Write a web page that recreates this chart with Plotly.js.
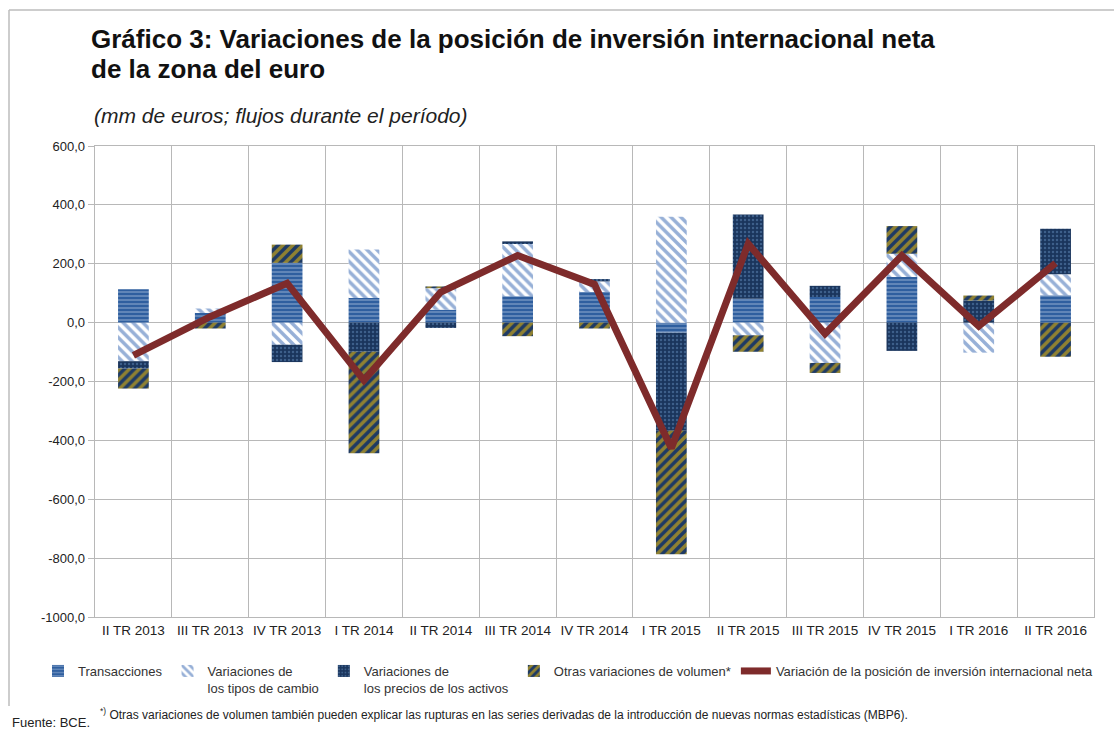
<!DOCTYPE html>
<html>
<head>
<meta charset="utf-8">
<script src="https://cdn.plot.ly/plotly-3.0.1.min.js"></script>
<style>
  html, body { margin: 0; padding: 0; background: #fff; }
  #chart { width: 1114px; height: 733px; }
</style>
</head>
<body>
<div id="chart"></div>
<script>
const categories = ['II TR 2013','III TR 2013','IV TR 2013','I TR 2014','II TR 2014','III TR 2014','IV TR 2014','I TR 2015','II TR 2015','III TR 2015','IV TR 2015','I TR 2016','II TR 2016'];
const transacciones = [113, 33, 203, 84, 44, 90, 104, -34, 81, 87, 155, 0, 93];
const tiposCambio   = [-131, 15, -75, 164, 73, 177, 36, 360, -43, -137, 79, -102, 71];
const preciosActivos = [-25, 0, -59, -99, -18, 9, 8, -333, 286, 38, -96, 75, 155];
const otrasVolumen  = [-68, -20, 62, -345, 6, -46, -20, -420, -56, -34, 94, 17, -116];
const variacionNeta = [-111, 20, 134, -196, 104, 228, 130, -427, 268, -38, 228, -12, 202];
const yTickVals = [600, 400, 200, 0, -200, -400, -600, -800, -1000];
const yTickText = ['600,0','400,0','200,0','0,0','-200,0','-400,0','-600,0','-800,0','-1000,0'];
const seriesNames = ['Transacciones', 'Variaciones de<br>los tipos de cambio', 'Variaciones de<br>los precios de los activos', 'Otras variaciones de volumen*', 'Variación de la posición de inversión internacional neta'];

// pixel helpers for paper coords (plot area: x 95..1094, y 146..617)
const PL = 95, PR = 1094, PT = 146, PB = 617;
const px = v => (v - PL) / (PR - PL);
const py = v => (PB - v) / (PB - PT);

const traces = [
  { type: 'bar', name: seriesNames[0], x: categories, y: transacciones,
    marker: { color: '#2F5F9F', line: { width: 0 },
      pattern: { shape: '-', fillmode: 'overlay', fgcolor: '#D4E0F0', size: 4, solidity: 0.3 } } },
  { type: 'bar', name: seriesNames[1], x: categories, y: tiposCambio,
    marker: { color: '#FFFFFF', line: { width: 0 },
      pattern: { shape: '\\', fillmode: 'overlay', fgcolor: '#2F62B0', size: 7, solidity: 0.5 } } },
  { type: 'bar', name: seriesNames[2], x: categories, y: preciosActivos,
    marker: { color: '#1A355C', line: { width: 0 },
      pattern: { shape: '.', fillmode: 'overlay', fgcolor: '#5F88B8', size: 4, solidity: 0.3 } } },
  { type: 'bar', name: seriesNames[3], x: categories, y: otrasVolumen,
    marker: { color: '#1E3A64', line: { width: 0 },
      pattern: { shape: '/', fillmode: 'overlay', fgcolor: '#FFC800', size: 7, solidity: 0.5 } } },
  { type: 'scatter', mode: 'lines', name: seriesNames[4], x: categories, y: variacionNeta,
    line: { color: '#7E2B2B', width: 7 } }
];

const layout = {
  width: 1114, height: 733,
  paper_bgcolor: '#fff', plot_bgcolor: '#fff',
  margin: { l: PL, r: 1114 - PR, t: PT, b: 733 - PB },
  barmode: 'relative',
  bargap: 0.6,
  font: { family: 'Liberation Sans, Arial, sans-serif', size: 13, color: '#222' },
  showlegend: true,
  legend: {
    orientation: 'h', x: px(38), y: py(656), xanchor: 'left', yanchor: 'top',
    font: { size: 13, color: '#333' }, valign: 'top',
    traceorder: 'normal', itemwidth: 30, tracegroupgap: 0
  },
  xaxis: {
    type: 'category', tickson: 'boundaries', showgrid: true,
    gridcolor: '#B8B8B8', gridwidth: 1, ticks: '',
    showline: true, linecolor: '#B8B8B8', linewidth: 1.3, mirror: true,
    tickfont: { size: 13.5, color: '#222' }, fixedrange: true
  },
  yaxis: {
    range: [-1000, 600], tickvals: yTickVals, ticktext: yTickText,
    showgrid: true, gridcolor: '#B8B8B8', gridwidth: 1, zeroline: false,
    ticks: 'outside', ticklen: 6, tickcolor: '#B8B8B8',
    showline: true, linecolor: '#B8B8B8', linewidth: 1.3, mirror: true,
    tickfont: { size: 13, color: '#222' }, fixedrange: true
  },
  annotations: [
    { xref: 'paper', yref: 'paper', x: px(89), y: py(39), xanchor: 'left', yanchor: 'middle',
      align: 'left', showarrow: false,
      text: '<b>Gráfico 3: Variaciones de la posición de inversión internacional neta</b>',
      font: { size: 26, color: '#111', family: 'Liberation Sans, Arial, sans-serif' } },
    { xref: 'paper', yref: 'paper', x: px(89), y: py(69), xanchor: 'left', yanchor: 'middle',
      align: 'left', showarrow: false,
      text: '<b>de la zona del euro</b>',
      font: { size: 26, color: '#111', family: 'Liberation Sans, Arial, sans-serif' } },
    { xref: 'paper', yref: 'paper', x: px(92), y: py(115), xanchor: 'left', yanchor: 'middle',
      align: 'left', showarrow: false,
      text: '<i>(mm de euros; flujos durante el período)</i>',
      font: { size: 21, color: '#222' } },
    { xref: 'paper', yref: 'paper', x: px(98), y: py(704), xanchor: 'left', yanchor: 'top',
      align: 'left', showarrow: false,
      text: '<sup>*)</sup> Otras variaciones de volumen también pueden explicar las rupturas en las series derivadas de la introducción de nuevas normas estadísticas (MBP6).',
      font: { size: 12, color: '#222', family: 'Liberation Sans, Arial, sans-serif' } },
    { xref: 'paper', yref: 'paper', x: px(10), y: py(713), xanchor: 'left', yanchor: 'top',
      align: 'left', showarrow: false,
      text: 'Fuente: BCE.',
      font: { size: 13, color: '#222', family: 'Liberation Sans, Arial, sans-serif' } }
  ],
  shapes: [
    { type: 'line', xref: 'paper', yref: 'paper', x0: px(9), x1: px(1114), y0: py(10), y1: py(10),
      line: { color: '#BDBDBD', width: 1.5 } },
    { type: 'line', xref: 'paper', yref: 'paper', x0: px(9), x1: px(9), y0: py(10), y1: py(706),
      line: { color: '#BDBDBD', width: 1.5 } }
  ]
};

Plotly.newPlot('chart', traces, layout, { staticPlot: true, displayModeBar: false });
</script>
</body>
</html>
